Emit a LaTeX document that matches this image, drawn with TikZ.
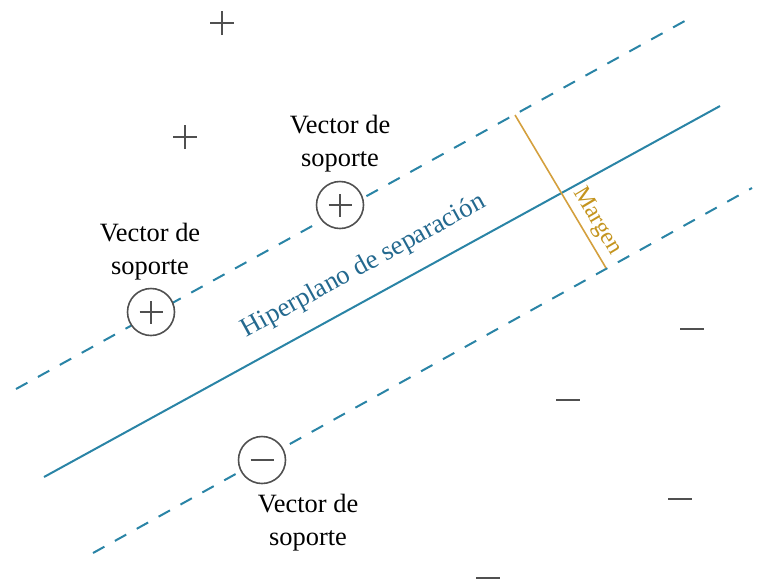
\documentclass[tikz,border=0pt]{standalone}
\usepackage{fontspec}
\setmainfont{Liberation Serif}
\definecolor{hypblue}{RGB}{42,132,166}
\definecolor{txtblue}{RGB}{36,105,143}
\definecolor{margold}{RGB}{212,160,62}
\definecolor{mgold}{RGB}{196,148,30}
\definecolor{symgray}{RGB}{80,80,80}
\begin{document}
\begin{tikzpicture}[x=0.5pt,y=-0.5pt,
  sv/.style={circle,draw=symgray,fill=white,line width=0.8pt,minimum size=23.5pt,inner sep=0},
  pt/.style={inner sep=0,minimum size=0},
  sym/.style={symgray,line width=0.85pt},
  lbl/.style={align=center,font=\fontsize{13.2}{16.5}\selectfont},
  hyp/.style={hypblue,line width=1pt},
  marg/.style={hypblue,line width=1pt,dash pattern=on 6.5pt off 6pt}]
\useasboundingbox (0,0) rectangle (758,580);
\coordinate (u1) at (16,389); \coordinate (u2) at (692,17);
\coordinate (h1) at (44,477); \coordinate (h2) at (720,106);
\coordinate (l1) at (93,553); \coordinate (l2) at (752,188);
\coordinate (m1) at (515,115); \coordinate (m2) at (606,268);
\draw[marg] (u1)--(u2);
\draw[marg] (l1)--(l2);
\draw[hyp] (h1)--node[sloped,above=5.5pt,pos=.495,txtblue,font=\fontsize{13.4}{16}\selectfont]{Hiperplano de separación}(h2);
\draw[margold,line width=0.8pt] (m1)--node[sloped,above=-1pt,pos=.75,mgold,font=\fontsize{12}{14}\selectfont]{Margen}(m2);
% support vectors
\foreach \n/\x/\y in {sv1/340/205,sv2/151/312}{
  \node[sv](\n)at(\x,\y){};
  \draw[sym]([xshift=-5.75pt]\n.center)--([xshift=5.75pt]\n.center);
  \draw[sym]([yshift=-5.75pt]\n.center)--([yshift=5.75pt]\n.center);}
\node[sv](sv3)at(262,460){};
\draw[sym]([xshift=-5.75pt]sv3.center)--([xshift=5.75pt]sv3.center);
% other points
\foreach \n/\x/\y in {p1/222/23,p2/185/137}{
  \node[pt](\n)at(\x,\y){};
  \draw[sym]([xshift=-6pt]\n.center)--([xshift=6pt]\n.center);
  \draw[sym]([yshift=-6pt]\n.center)--([yshift=6pt]\n.center);}
\foreach \n/\x/\y in {n1/692/329,n2/568/400,n3/680/499,n4/488/578}{
  \node[pt](\n)at(\x,\y){};
  \draw[sym]([xshift=-6pt]\n.center)--([xshift=6pt]\n.center);}
\node[lbl](t1)at(340,144){Vector de\\soporte};
\node[lbl](t2)at(150,252){Vector de\\soporte};
\node[lbl](t3)at(308,523){Vector de\\soporte};
\end{tikzpicture}
\end{document}
